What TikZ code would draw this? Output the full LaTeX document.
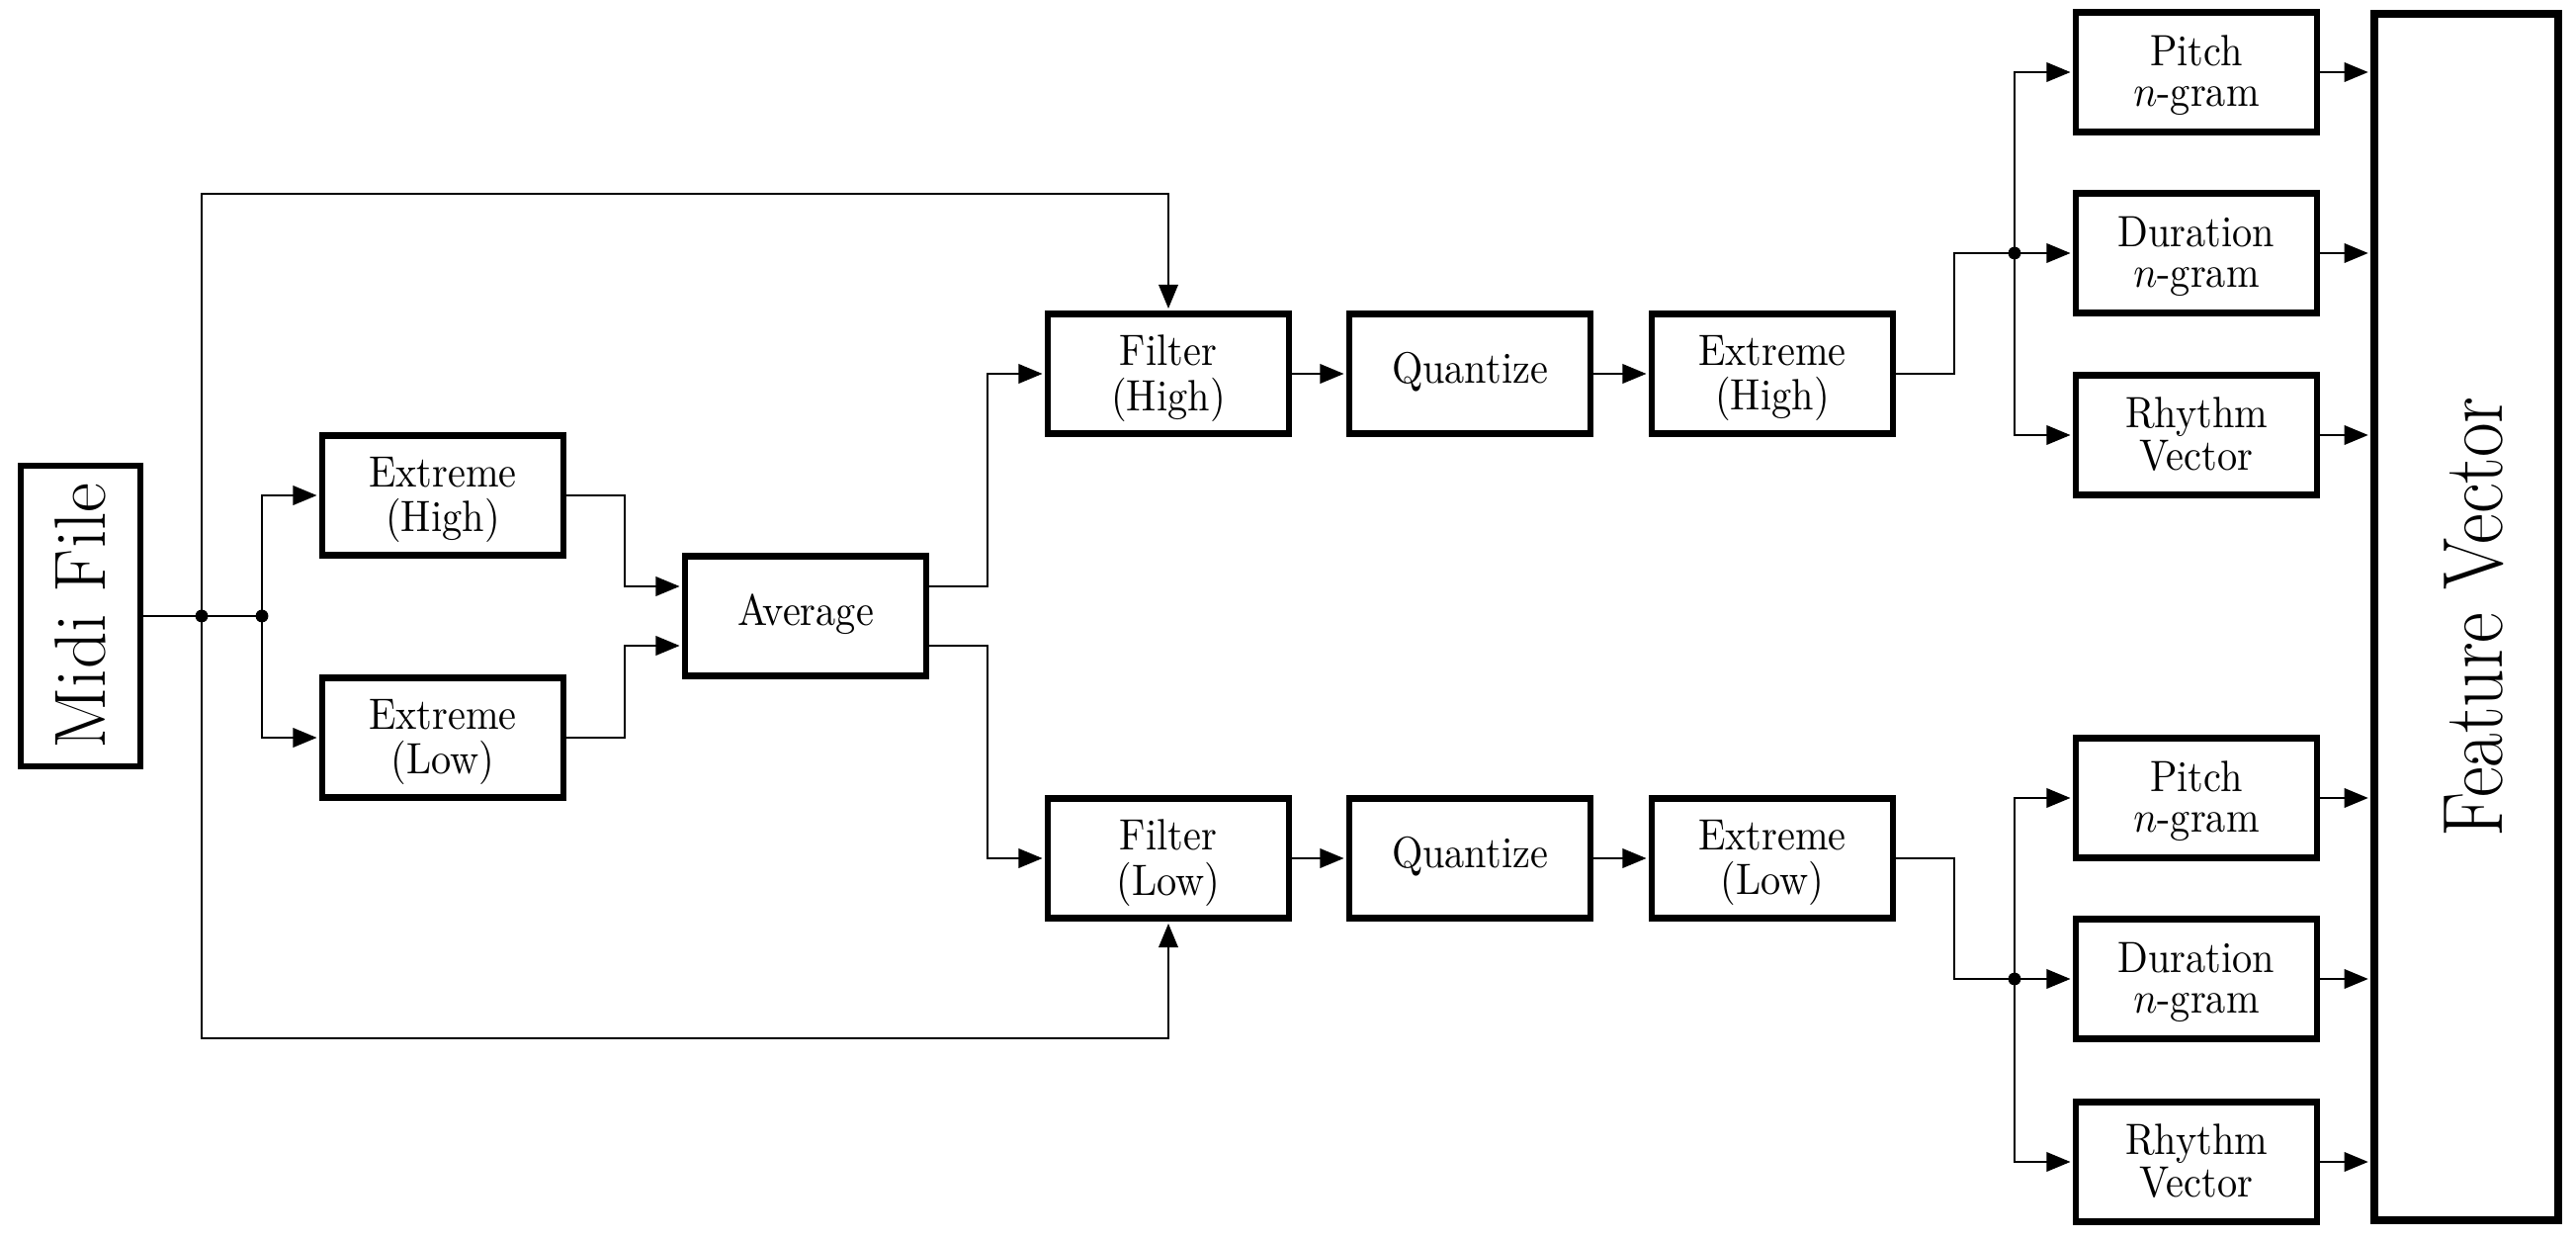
\documentclass[tikz,border=0pt]{standalone}
\usepackage{graphicx}
\usetikzlibrary{arrows.meta}
\renewcommand{\arraystretch}{0.77}
\newcommand{\twoline}[2]{\raisebox{-1.25pt}[\height][\depth]{\scalebox{1}[1.1]{\begin{tabular}{@{}c@{}}#1\\#2\end{tabular}}}}
\newcommand{\oneline}[1]{\scalebox{1}[1.1]{\begin{tabular}{@{}c@{}}#1\end{tabular}}}
\begin{document}
\begin{tikzpicture}[x=0.248pt,y=-0.248pt,
  box/.style={draw,line width=1.5pt,minimum width=60.5pt,minimum height=30pt,inner sep=0pt,font=\fontsize{10}{12}\selectfont},
  wire/.style={line width=0.65pt},
  arr/.style={wire,-{Triangle[length=6pt,width=4.8pt]},shorten >=0.6pt}]
\useasboundingbox (0,0) rectangle (2606,1254);

% nodes
\node[box,minimum width=30pt,minimum height=75.4pt] (midi) at (81.5,623) {\rotatebox{90}{\fontsize{18.2}{22}\selectfont Midi File}};
\node[box] (exh) at (448,501) {\twoline{Extreme}{(High)}};
\node[box] (exl) at (448,746) {\twoline{Extreme}{(Low)}};
\node[box] (avg) at (815,623) {\oneline{Average}};
\node[box] (fh) at (1182,378) {\twoline{Filter}{(High)}};
\node[box] (qh) at (1487,378) {\oneline{Quantize}};
\node[box] (eh2) at (1793,378) {\twoline{Extreme}{(High)}};
\node[box] (fl) at (1182,868) {\twoline{Filter}{(Low)}};
\node[box] (ql) at (1487,868) {\oneline{Quantize}};
\node[box] (el2) at (1793,868) {\twoline{Extreme}{(Low)}};
\node[box] (p1) at (2222,73) {\twoline{Pitch}{$n$-gram}};
\node[box] (du1) at (2222,256) {\twoline{Duration}{$n$-gram}};
\node[box] (r1) at (2222,440) {\twoline{Rhythm}{Vector}};
\node[box] (p2) at (2222,807) {\twoline{Pitch}{$n$-gram}};
\node[box] (du2) at (2222,990) {\twoline{Duration}{$n$-gram}};
\node[box] (r2) at (2222,1175) {\twoline{Rhythm}{Vector}};
\node[draw,line width=2pt,minimum width=46pt,minimum height=302.6pt,inner sep=0pt] (fv) at (2495,624) {\rotatebox{90}{\raisebox{-2pt}[\height][\depth]{\scalebox{0.9}[1.03]{\huge Feature Vector}}}};

% junction coordinates
\coordinate (d1) at (204,623);
\coordinate (d2) at (265,623);
\coordinate (tl) at (204,196);
\coordinate (bl) at (204,1050);
\coordinate (ain1) at (632,593);
\coordinate (ain2) at (632,653);
\coordinate (aout1) at (999,593);
\coordinate (aout2) at (999,653);
\coordinate (jh) at (1977,256);
\coordinate (dh) at (2038,256);
\coordinate (jl) at (1977,990);
\coordinate (dl) at (2038,990);

% connectors
\draw[wire] (midi.east) -- (d2);
\draw[arr] (d2) |- (exh.west);
\draw[arr] (d2) |- (exl.west);
\draw[arr] (d1) -- (tl) -| (fh.north);
\draw[arr] (d1) -- (bl) -| (fl.south);
\draw[arr] (exh.east) -| (ain1) -- (ain1 -| avg.west);
\draw[arr] (exl.east) -| (ain2) -- (ain2 -| avg.west);
\draw[arr] (aout1 -| avg.east) -- (aout1) |- (fh.west);
\draw[arr] (aout2 -| avg.east) -- (aout2) |- (fl.west);
\draw[arr] (fh) -- (qh);
\draw[arr] (qh) -- (eh2);
\draw[arr] (fl) -- (ql);
\draw[arr] (ql) -- (el2);
\draw[wire] (eh2.east) -| (jh) -- (dh);
\draw[wire] (el2.east) -| (jl) -- (dl);
\draw[arr] (dh) |- (p1.west);
\draw[arr] (dh) -- (du1.west);
\draw[arr] (dh) |- (r1.west);
\draw[arr] (dl) |- (p2.west);
\draw[arr] (dl) -- (du2.west);
\draw[arr] (dl) |- (r2.west);
\foreach \b in {p1,du1,r1,p2,du2,r2}
  \draw[arr] (\b.east) -- (\b.east -| fv.west);

% dots
\foreach \c in {d1,d2,dh,dl}
  \fill (\c) circle (1.6pt);
\end{tikzpicture}
\end{document}
